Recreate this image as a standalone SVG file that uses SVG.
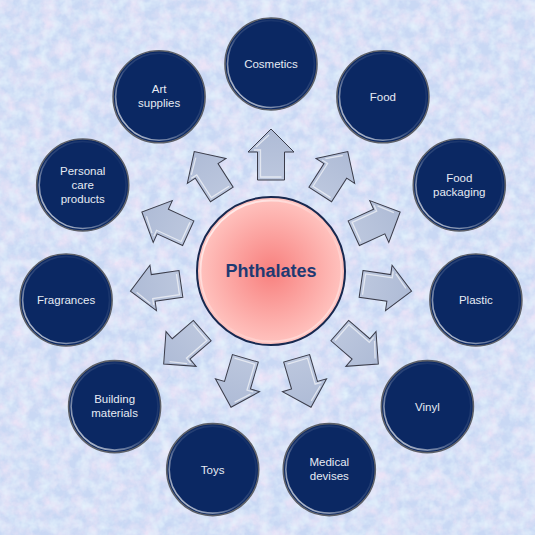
<svg xmlns="http://www.w3.org/2000/svg" xmlns:xlink="http://www.w3.org/1999/xlink" width="535" height="535" viewBox="0 0 535 535">
<defs>
<style>
.node circle.base{fill:#0b2863;stroke:#5d6068;stroke-width:1.6}
.node circle.ring{fill:none;stroke:url(#ringG);stroke-width:1.6}
.node text{font-family:"Liberation Sans",Arial,sans-serif;font-size:11.5px;fill:#e6ebf4;text-anchor:middle}
.arr{fill:url(#arrG);stroke:#3a3c4a;stroke-width:1}
.arrh{fill:none;stroke:#ffffff;stroke-opacity:0.6;stroke-width:1.3}
</style>
<filter id="tex" x="0" y="0" width="100%" height="100%">
<feTurbulence type="fractalNoise" baseFrequency="0.07" numOctaves="4" seed="4" result="n"/>
<feColorMatrix in="n" type="matrix" values="0 0 0 0 0.90  0 0 0 0 0.80  0 0 0 0 0.94  1.6 0 0 0 -0.55"/>
</filter>
<filter id="tex2" x="0" y="0" width="100%" height="100%">
<feTurbulence type="fractalNoise" baseFrequency="0.1" numOctaves="3" seed="9" result="n"/>
<feColorMatrix in="n" type="matrix" values="0 0 0 0 0.78  0 0 0 0 0.90  0 0 0 0 0.98  0 1.6 0 0 -0.6"/>
</filter>
<radialGradient id="centerG" cx="0.5" cy="0.5" r="0.5">
<stop offset="0" stop-color="#f8807e"/>
<stop offset="1" stop-color="#ffc4c0"/>
</radialGradient>
<linearGradient id="ringG" x1="0" y1="1" x2="1" y2="0">
<stop offset="0" stop-color="#ffffff" stop-opacity="0.9"/>
<stop offset="0.45" stop-color="#ffffff" stop-opacity="0.15"/>
<stop offset="1" stop-color="#ffffff" stop-opacity="0"/>
</linearGradient>
<linearGradient id="cRingG" x1="0" y1="0" x2="1" y2="1">
<stop offset="0" stop-color="#ffffff" stop-opacity="0.9"/>
<stop offset="0.5" stop-color="#ffffff" stop-opacity="0.1"/>
<stop offset="1" stop-color="#ffffff" stop-opacity="0.5"/>
</linearGradient>
<linearGradient id="arrG" x1="0" y1="0" x2="1" y2="0">
<stop offset="0" stop-color="#bcc7de"/>
<stop offset="1" stop-color="#aebbd6"/>
</linearGradient>
<g id="arrow">
<polygon class="arr" points="91,-13.5 119,-13.5 119,-23 142,0 119,23 119,13.5 91,13.5"/>
<polyline class="arrh" points="94,10.5 94,-10.5 121,-10.5 121,-17"/>
<polyline class="arrh" points="124,-15 136,-2"/>
</g>
</defs>
<rect x="0" y="0" width="535" height="535" fill="#c9d8f4"/>
<rect x="0" y="0" width="535" height="535" filter="url(#tex)"/>
<rect x="0" y="0" width="535" height="535" filter="url(#tex2)"/>

<g id="connectors">
<use xlink:href="#arrow" href="#arrow" transform="translate(271 271) rotate(-90)"/>
<use xlink:href="#arrow" href="#arrow" transform="translate(271 271) rotate(-57.27)"/>
<use xlink:href="#arrow" href="#arrow" transform="translate(271 271) rotate(-24.55)"/>
<use xlink:href="#arrow" href="#arrow" transform="translate(271 271) rotate(8.18)"/>
<use xlink:href="#arrow" href="#arrow" transform="translate(271 271) rotate(40.91)"/>
<use xlink:href="#arrow" href="#arrow" transform="translate(271 271) rotate(73.64)"/>
<use xlink:href="#arrow" href="#arrow" transform="translate(271 271) rotate(106.36)"/>
<use xlink:href="#arrow" href="#arrow" transform="translate(271 271) rotate(139.09)"/>
<use xlink:href="#arrow" href="#arrow" transform="translate(271 271) rotate(171.82)"/>
<use xlink:href="#arrow" href="#arrow" transform="translate(271 271) rotate(204.55)"/>
<use xlink:href="#arrow" href="#arrow" transform="translate(271 271) rotate(237.27)"/>
</g>

<g id="phthalates">
<circle cx="271" cy="271" r="74" fill="url(#centerG)" stroke="#17284f" stroke-width="2"/>
<circle cx="271" cy="271" r="70.5" fill="none" stroke="url(#cRingG)" stroke-width="1.8"/>
<text x="271" y="277" font-family="'Liberation Sans',Arial,sans-serif" font-size="18" font-weight="bold" fill="#1f3a72" text-anchor="middle">Phthalates</text>
</g>

<g id="cosmetics" class="node">
<circle class="base" cx="271" cy="64" r="46"/><circle class="ring" cx="271" cy="64" r="43.5"/>
<text x="271" y="68">Cosmetics</text>
</g>
<g id="food" class="node">
<circle class="base" cx="382.9" cy="96.8" r="46"/><circle class="ring" cx="382.9" cy="96.8" r="43.5"/>
<text x="382.9" y="101">Food</text>
</g>
<g id="food-packaging" class="node">
<circle class="base" cx="459.3" cy="185" r="46"/><circle class="ring" cx="459.3" cy="185" r="43.5"/>
<text x="459.3" y="182">Food</text>
<text x="459.3" y="196">packaging</text>
</g>
<g id="plastic" class="node">
<circle class="base" cx="475.9" cy="300" r="46"/><circle class="ring" cx="475.9" cy="300" r="43.5"/>
<text x="475.9" y="304">Plastic</text>
</g>
<g id="vinyl" class="node">
<circle class="base" cx="427.4" cy="406.6" r="46"/><circle class="ring" cx="427.4" cy="406.6" r="43.5"/>
<text x="427.4" y="411">Vinyl</text>
</g>
<g id="medical-devises" class="node">
<circle class="base" cx="329.3" cy="469.6" r="46"/><circle class="ring" cx="329.3" cy="469.6" r="43.5"/>
<text x="329.3" y="466">Medical</text>
<text x="329.3" y="480">devises</text>
</g>
<g id="toys" class="node">
<circle class="base" cx="212.7" cy="469.6" r="46"/><circle class="ring" cx="212.7" cy="469.6" r="43.5"/>
<text x="212.7" y="474">Toys</text>
</g>
<g id="building-materials" class="node">
<circle class="base" cx="114.6" cy="406.6" r="46"/><circle class="ring" cx="114.6" cy="406.6" r="43.5"/>
<text x="114.6" y="403">Building</text>
<text x="114.6" y="417">materials</text>
</g>
<g id="fragrances" class="node">
<circle class="base" cx="66.1" cy="300" r="46"/><circle class="ring" cx="66.1" cy="300" r="43.5"/>
<text x="66.1" y="304">Fragrances</text>
</g>
<g id="personal-care-products" class="node">
<circle class="base" cx="82.7" cy="185" r="46"/><circle class="ring" cx="82.7" cy="185" r="43.5"/>
<text x="82.7" y="175">Personal</text>
<text x="82.7" y="189">care</text>
<text x="82.7" y="203">products</text>
</g>
<g id="art-supplies" class="node">
<circle class="base" cx="159.1" cy="96.8" r="46"/><circle class="ring" cx="159.1" cy="96.8" r="43.5"/>
<text x="159.1" y="93">Art</text>
<text x="159.1" y="107">supplies</text>
</g>
</svg>
